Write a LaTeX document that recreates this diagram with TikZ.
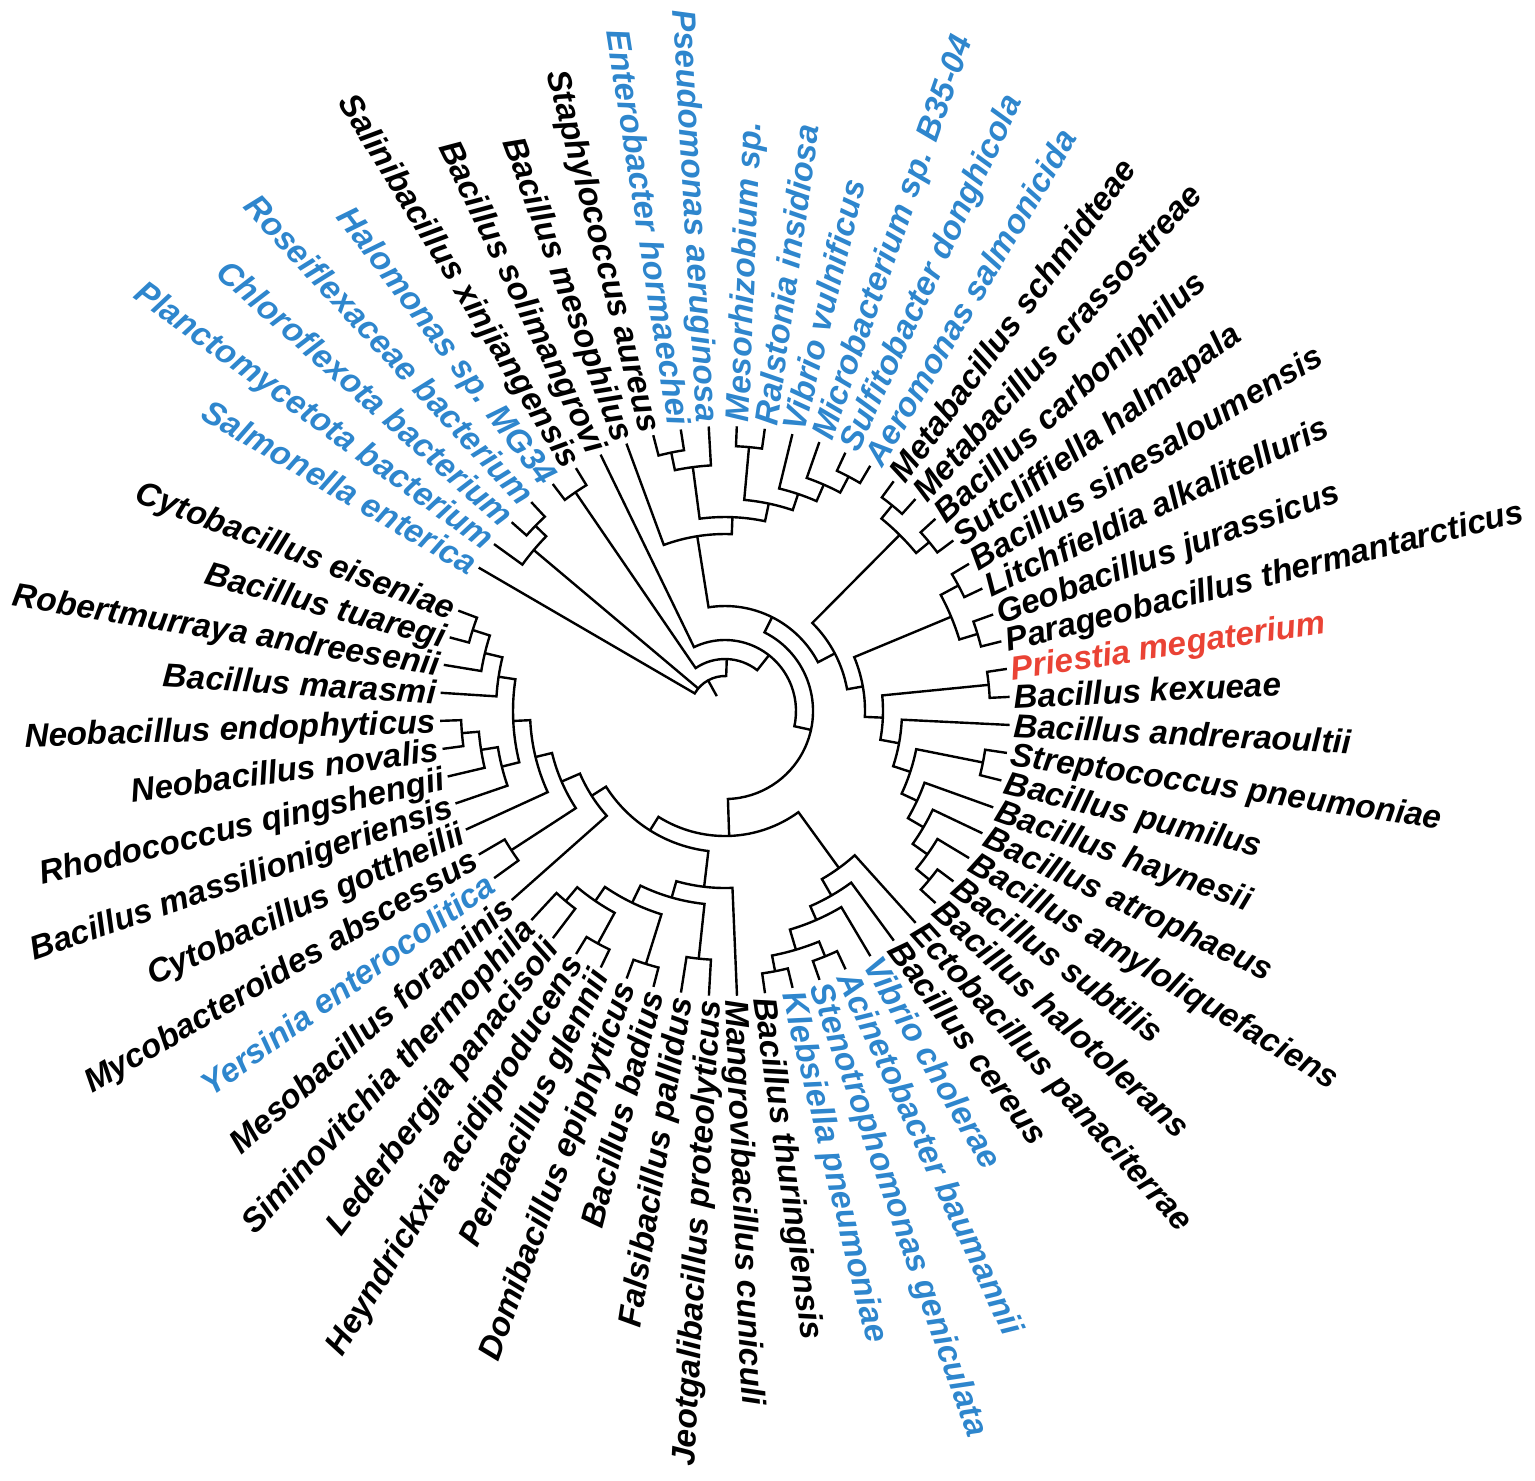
\documentclass[tikz,border=0pt]{standalone}
\usepackage{fontspec}
\setmainfont{Liberation Sans}
\definecolor{tblue}{RGB}{46,134,205}
\definecolor{tred}{RGB}{234,67,53}
\tikzset{
  br/.style={line width=1.2pt, line join=miter},
  lab/.style={font=\fontsize{16.6}{19}\selectfont\bfseries\itshape, inner sep=0pt, text height=11.9pt, text depth=0pt},
}
\newcommand\lf[4]{%
  \pgfmathsetmacro\qt{127.19-(#2)*5.652}%
  \expandafter\xdef\csname A-#1\endcsname{\qt}%
  \coordinate (#1) at (\qt:285);%
  \pgfmathtruncatemacro\qs{cos(\qt)>0}%
  \ifnum\qs=1
    \node[lab,text=#3,rotate=\qt,anchor=west] (#1-lab) at (\qt:289) {#4};%
  \else
    \pgfmathsetmacro\qu{\qt+180}%
    \node[lab,text=#3,rotate=\qu,anchor=east] (#1-lab) at (\qt:289) {#4};%
  \fi}
\newcommand\cl[4]{%
  \edef\qa{\csname A-#3\endcsname}\edef\qb{\csname A-#4\endcsname}%
  \pgfmathsetmacro\qm{(\qa+\qb)/2}%
  \expandafter\xdef\csname A-#1\endcsname{\qm}%
  \coordinate (#1) at (\qm:#2);%
  \draw[br] (#3) -- (\qa:#2) arc[start angle=\qa,end angle=\qb,radius=#2] -- (#4);}
\begin{document}
\begin{tikzpicture}[x=0.5pt,y=0.5pt]
\useasboundingbox (0,0) rectangle (1535,-1480);
\begin{scope}[shift={(725,-711)}]
% leaves
\lf{salmon}{-4}{tblue}{Salmonella enterica}
\lf{plancto}{-3}{tblue}{Planctomycetota bacterium}
\lf{chloro}{-2}{tblue}{Chloroflexota bacterium}
\lf{rosei}{-1}{tblue}{Roseiflexaceae bacterium}
\lf{halo}{0}{tblue}{Halomonas sp. MG34}
\lf{salini}{1}{black}{Salinibacillus xinjiangensis}
\lf{solim}{2}{black}{Bacillus solimangrovi}
\lf{mesoph}{3}{black}{Bacillus mesophilus}
\lf{staph}{4}{black}{Staphylococcus aureus}
\lf{entero}{5}{tblue}{Enterobacter hormaechei}
\lf{pseudo}{6}{tblue}{Pseudomonas aeruginosa}
\lf{mesorh}{7}{tblue}{Mesorhizobium sp.}
\lf{ralst}{8}{tblue}{Ralstonia insidiosa}
\lf{vibv}{9}{tblue}{Vibrio vulnificus}
\lf{microb}{10}{tblue}{Microbacterium sp. B35-04}
\lf{sulfi}{11}{tblue}{Sulfitobacter donghicola}
\lf{aerom}{12}{tblue}{Aeromonas salmonicida}
\lf{schmid}{13}{black}{Metabacillus schmidteae}
\lf{crass}{14}{black}{Metabacillus crassostreae}
\lf{carbo}{15}{black}{Bacillus carboniphilus}
\lf{sutcl}{16}{black}{Sutcliffiella halmapala}
\lf{sines}{17}{black}{Bacillus sinesaloumensis}
\lf{litch}{18}{black}{Litchfieldia alkalitelluris}
\lf{geo}{19}{black}{Geobacillus jurassicus}
\lf{parag}{20}{black}{Parageobacillus thermantarcticus}
\lf{priest}{21}{tred}{Priestia megaterium}
\lf{kexu}{22}{black}{Bacillus kexueae}
\lf{andre}{23}{black}{Bacillus andreraoultii}
\lf{strep}{24}{black}{Streptococcus pneumoniae}
\lf{pumil}{25}{black}{Bacillus pumilus}
\lf{hayn}{26}{black}{Bacillus haynesii}
\lf{atro}{27}{black}{Bacillus atrophaeus}
\lf{amylo}{28}{black}{Bacillus amyloliquefaciens}
\lf{subt}{29}{black}{Bacillus subtilis}
\lf{halot}{30}{black}{Bacillus halotolerans}
\lf{ecto}{31}{black}{Ectobacillus panaciterrae}
\lf{cereus}{32}{black}{Bacillus cereus}
\lf{vchol}{33}{tblue}{Vibrio cholerae}
\lf{acin}{34}{tblue}{Acinetobacter baumannii}
\lf{steno}{35}{tblue}{Stenotrophomonas geniculata}
\lf{kleb}{36}{tblue}{Klebsiella pneumoniae}
\lf{thur}{37}{black}{Bacillus thuringiensis}
\lf{mangro}{38}{black}{Mangrovibacillus cuniculi}
\lf{jeot}{39}{black}{Jeotgalibacillus proteolyticus}
\lf{falsi}{40}{black}{Falsibacillus pallidus}
\lf{badius}{41}{black}{Bacillus badius}
\lf{domi}{42}{black}{Domibacillus epiphyticus}
\lf{peri}{43}{black}{Peribacillus glennii}
\lf{heyn}{44}{black}{Heyndrickxia acidiproducens}
\lf{leder}{45}{black}{Lederbergia panacisoli}
\lf{simino}{46}{black}{Siminovitchia thermophila}
\lf{mesob}{47}{black}{Mesobacillus foraminis}
\lf{yers}{48}{tblue}{Yersinia enterocolitica}
\lf{myco}{49}{black}{Mycobacteroides abscessus}
\lf{cytog}{50}{black}{Cytobacillus gottheilii}
\lf{massil}{51}{black}{Bacillus massilionigeriensis}
\lf{rhodo}{52}{black}{Rhodococcus qingshengii}
\lf{neonov}{53}{black}{Neobacillus novalis}
\lf{neoend}{54}{black}{Neobacillus endophyticus}
\lf{maras}{55}{black}{Bacillus marasmi}
\lf{robert}{56}{black}{Robertmurraya andreesenii}
\lf{tuar}{57}{black}{Bacillus tuaregi}
\lf{eisen}{58}{black}{Cytobacillus eiseniae}
% clades
\cl{RC}{265}{rosei}{chloro}
\cl{PCl}{250}{RC}{plancto}
\cl{HS}{265}{halo}{salini}
\cl{SE}{264}{staph}{entero}
\cl{T1}{246}{SE}{pseudo}
\cl{MR}{265}{mesorh}{ralst}
\cl{T5}{265}{sulfi}{aerom}
\cl{T4}{247}{microb}{T5}
\cl{T3}{229}{vibv}{T4}
\cl{T2}{212}{MR}{T3}
\cl{T}{194}{T1}{T2}
\cl{M}{177}{mesoph}{T}
\cl{SC}{265}{schmid}{crass}
\cl{CS}{265}{carbo}{sutcl}
\cl{C811}{248}{SC}{CS}
\cl{SL}{265}{sines}{litch}
\cl{GP}{264}{geo}{parag}
\cl{C1215}{245}{SL}{GP}
\cl{PK}{265}{priest}{kexu}
\cl{ST}{263}{strep}{pumil}
\cl{SH}{265}{subt}{halot}
\cl{P9}{248}{amylo}{SH}
\cl{P8}{230}{atro}{P9}
\cl{P7}{212}{hayn}{P8}
\cl{P6}{195}{ST}{P7}
\cl{P5}{177}{andre}{P6}
\cl{P4}{158}{PK}{P5}
\cl{P3}{140}{C1215}{P4}
\cl{P2}{124}{C811}{P3}
\cl{P}{105}{M}{P2}
\cl{AS}{265}{acin}{steno}
\cl{KT}{265}{kleb}{thur}
\cl{Q1d}{249}{AS}{KT}
\cl{Q1c}{228}{vchol}{Q1d}
\cl{Q1b}{213}{cereus}{Q1c}
\cl{Q1}{194}{ecto}{Q1b}
\cl{JF}{249}{jeot}{falsi}
\cl{BD}{265}{badius}{domi}
\cl{PH}{265}{peri}{heyn}
\cl{LS}{248}{leder}{simino}
\cl{N230}{230}{PH}{LS}
\cl{N213}{213}{BD}{N230}
\cl{Q2Ra}{194}{JF}{N213}
\cl{Q2R}{177}{mangro}{Q2Ra}
\cl{U1}{265}{tuar}{eisen}
\cl{U2}{247}{robert}{U1}
\cl{U3}{229}{maras}{U2}
\cl{D1}{264}{neonov}{neoend}
\cl{D2}{247}{rhodo}{D1}
\cl{D3}{230}{massil}{D2}
\cl{UD}{212}{D3}{U3}
\cl{UDC}{195}{cytog}{UD}
\cl{MY}{255}{yers}{myco}
\cl{L1}{178}{MY}{UDC}
\cl{Q2L}{158}{mesob}{L1}
\cl{Q2}{141}{Q2R}{Q2L}
\cl{Q}{125}{Q1}{Q2}
\cl{W}{88}{P}{Q}
\cl{Z}{71}{solim}{W}
\cl{Y}{52}{HS}{Z}
% root (three children)
\edef\qa{\csname A-Y\endcsname}\edef\qb{\csname A-salmon\endcsname}\edef\qc{\csname A-PCl\endcsname}
\pgfmathsetmacro\qm{(\qa+\qb)/2}
\coordinate (root) at (\qm:17);
\draw[br] (Y) -- (\qa:35) arc[start angle=\qa,end angle=\qb,radius=35] -- (salmon);
\draw[br] (\qc:35) -- (PCl);
\draw[br] (\qm:35) -- (root);
\end{scope}
\end{tikzpicture}
\end{document}
